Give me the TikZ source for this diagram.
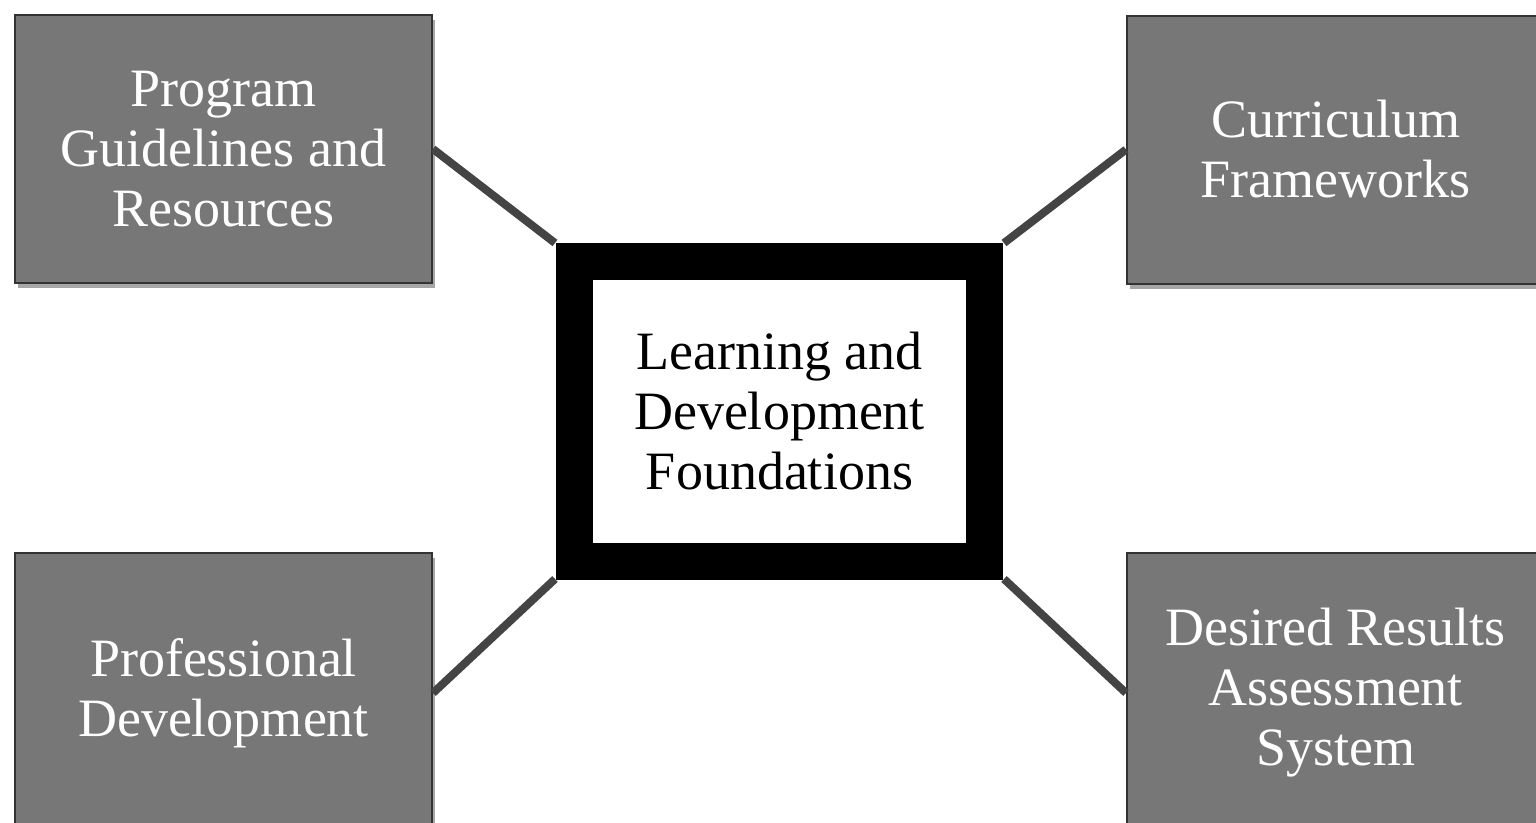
\documentclass[tikz,border=0pt]{standalone}
\usepackage{fontspec}
\setmainfont{Liberation Serif}
\usetikzlibrary{shadows}
\definecolor{boxgray}{HTML}{777777}
\definecolor{boxedge}{HTML}{333333}
\definecolor{linkgray}{HTML}{444444}
\tikzset{
  gbox/.style={rectangle, fill=boxgray, draw=boxedge, line width=2pt,
    minimum width=417pt, minimum height=268pt, inner sep=0pt,
    text=white, align=center, font=\fontsize{54}{60}\selectfont,
    drop shadow={shadow xshift=3pt, shadow yshift=-5pt, opacity=0.35, fill=black}},
  corebox/.style={rectangle, fill=white, draw=black, line width=37pt,
    minimum width=410pt, minimum height=300pt, inner sep=0pt,
    text=black, align=center, font=\fontsize{54}{60}\selectfont,
    drop shadow={shadow xshift=3pt, shadow yshift=-5pt, opacity=0.3, fill=black}},
  link/.style={draw=linkgray, line width=8pt}
}
\begin{document}
\begin{tikzpicture}[x=1pt, y=-1pt]
\useasboundingbox (0,0) rectangle (1536,822);
\clip (0,0) rectangle (1536,822);
\fill[white] (0,0) rectangle (1536,822);

\node[gbox] (tl) at (223.5,149) {Program\\Guidelines and\\Resources};
\node[gbox] (tr) at (1335.5,149.5) {Curriculum\\Frameworks};
\node[gbox, minimum height=280pt] (bl) at (223.5,693) {Professional\\Development};
\node[gbox, minimum height=280pt] (br) at (1335.5,693) {Desired Results\\Assessment\\System};

\coordinate (c) at (779.5,411);
\path (c) node[minimum width=449pt, minimum height=336pt, inner sep=0pt, outer sep=0pt] (frame) {};

\draw[link] (tl.east) -- (frame.north west);
\draw[link] (tr.west) -- (frame.north east);
\draw[link] (bl.east) -- (frame.south west);
\draw[link] (br.west) -- (frame.south east);

\node[corebox] (core) at (c) {Learning and\\Development\\Foundations};
\end{tikzpicture}
\end{document}
